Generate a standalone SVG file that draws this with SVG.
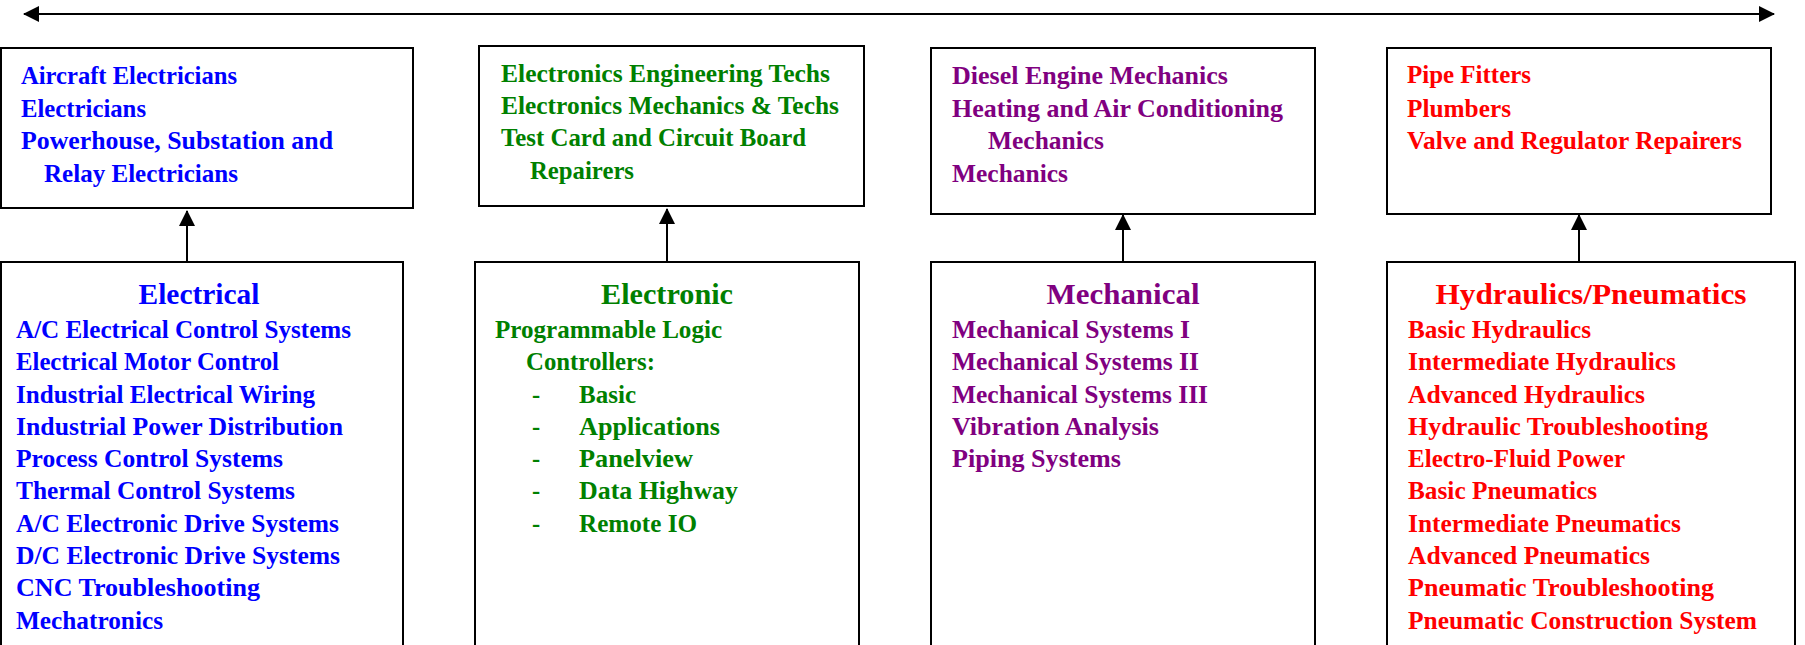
<svg xmlns="http://www.w3.org/2000/svg" width="1805" height="645" viewBox="0 0 1805 645">
  <style>
    .box { fill: #ffffff; stroke: #000000; stroke-width: 2; }
    .link { stroke: #000000; stroke-width: 2; fill: none; }
    text { font-family: "Liberation Serif", "Times New Roman", serif; font-weight: bold; font-size: 24.5px; }
    .title { font-size: 29.5px; text-anchor: middle; }
    .blue { fill: #0000ff; }
    .green { fill: #008000; }
    .purple { fill: #800080; }
    .red { fill: #ff0000; }
  </style>
  <defs>
    <marker id="head" markerUnits="userSpaceOnUse" markerWidth="16" markerHeight="16" viewBox="0 0 16 16" refX="15" refY="8" orient="auto-start-reverse">
      <path d="M0,0 L16,8 L0,16 Z" fill="#000000"/>
    </marker>
  </defs>
  <rect width="1805" height="645" fill="#ffffff"/>

  <!-- connectors -->
  <g id="connectors">
    <line class="link" x1="24" y1="14" x2="1774" y2="14" marker-start="url(#head)" marker-end="url(#head)"/>
    <line class="link" x1="187" y1="262" x2="187" y2="211" marker-end="url(#head)"/>
    <line class="link" x1="667" y1="262" x2="667" y2="209" marker-end="url(#head)"/>
    <line class="link" x1="1123" y1="262" x2="1123" y2="215" marker-end="url(#head)"/>
    <line class="link" x1="1579" y1="262" x2="1579" y2="215" marker-end="url(#head)"/>
  </g>

  <!-- occupations: electrical -->
  <g id="jobs-electrical">
    <rect class="box" x="1" y="48" width="412" height="160"/>
    <text class="blue" x="21" y="84" textLength="216" lengthAdjust="spacingAndGlyphs">Aircraft Electricians</text>
    <text class="blue" x="21" y="117" textLength="125" lengthAdjust="spacingAndGlyphs">Electricians</text>
    <text class="blue" x="21" y="149" textLength="312" lengthAdjust="spacingAndGlyphs">Powerhouse, Substation and</text>
    <text class="blue" x="44" y="182" textLength="194" lengthAdjust="spacingAndGlyphs">Relay Electricians</text>
  </g>

  <!-- occupations: electronic -->
  <g id="jobs-electronic">
    <rect class="box" x="479" y="46" width="385" height="160"/>
    <text class="green" x="501" y="82" textLength="329" lengthAdjust="spacingAndGlyphs">Electronics Engineering Techs</text>
    <text class="green" x="501" y="114" textLength="338" lengthAdjust="spacingAndGlyphs">Electronics Mechanics &amp; Techs</text>
    <text class="green" x="501" y="146" textLength="305" lengthAdjust="spacingAndGlyphs">Test Card and Circuit Board</text>
    <text class="green" x="530" y="179" textLength="104" lengthAdjust="spacingAndGlyphs">Repairers</text>
  </g>

  <!-- occupations: mechanical -->
  <g id="jobs-mechanical">
    <rect class="box" x="931" y="48" width="384" height="166"/>
    <text class="purple" x="952" y="84" textLength="276" lengthAdjust="spacingAndGlyphs">Diesel Engine Mechanics</text>
    <text class="purple" x="952" y="117" textLength="331" lengthAdjust="spacingAndGlyphs">Heating and Air Conditioning</text>
    <text class="purple" x="988" y="149" textLength="116" lengthAdjust="spacingAndGlyphs">Mechanics</text>
    <text class="purple" x="952" y="182" textLength="116" lengthAdjust="spacingAndGlyphs">Mechanics</text>
  </g>

  <!-- occupations: fluid power -->
  <g id="jobs-fluid">
    <rect class="box" x="1387" y="48" width="384" height="166"/>
    <text class="red" x="1407" y="83" textLength="124" lengthAdjust="spacingAndGlyphs">Pipe Fitters</text>
    <text class="red" x="1407" y="117" textLength="104" lengthAdjust="spacingAndGlyphs">Plumbers</text>
    <text class="red" x="1407" y="149" textLength="335" lengthAdjust="spacingAndGlyphs">Valve and Regulator Repairers</text>
  </g>

  <!-- courses: electrical -->
  <g id="courses-electrical">
    <rect class="box" x="1" y="262" width="402" height="420"/>
    <text class="blue title" x="199" y="304" textLength="121" lengthAdjust="spacingAndGlyphs">Electrical</text>
    <text class="blue" x="16" y="338" textLength="335" lengthAdjust="spacingAndGlyphs">A/C Electrical Control Systems</text>
    <text class="blue" x="16" y="370" textLength="263" lengthAdjust="spacingAndGlyphs">Electrical Motor Control</text>
    <text class="blue" x="16" y="403" textLength="299" lengthAdjust="spacingAndGlyphs">Industrial Electrical Wiring</text>
    <text class="blue" x="16" y="435" textLength="327" lengthAdjust="spacingAndGlyphs">Industrial Power Distribution</text>
    <text class="blue" x="16" y="467" textLength="267" lengthAdjust="spacingAndGlyphs">Process Control Systems</text>
    <text class="blue" x="16" y="499" textLength="279" lengthAdjust="spacingAndGlyphs">Thermal Control Systems</text>
    <text class="blue" x="16" y="532" textLength="323" lengthAdjust="spacingAndGlyphs">A/C Electronic Drive Systems</text>
    <text class="blue" x="16" y="564" textLength="324" lengthAdjust="spacingAndGlyphs">D/C Electronic Drive Systems</text>
    <text class="blue" x="16" y="596" textLength="244" lengthAdjust="spacingAndGlyphs">CNC Troubleshooting</text>
    <text class="blue" x="16" y="629" textLength="147" lengthAdjust="spacingAndGlyphs">Mechatronics</text>
  </g>

  <!-- courses: electronic -->
  <g id="courses-electronic">
    <rect class="box" x="475" y="262" width="384" height="420"/>
    <text class="green title" x="667" y="304" textLength="132" lengthAdjust="spacingAndGlyphs">Electronic</text>
    <text class="green" x="495" y="338" textLength="227" lengthAdjust="spacingAndGlyphs">Programmable Logic</text>
    <text class="green" x="526" y="370" textLength="129" lengthAdjust="spacingAndGlyphs">Controllers:</text>
    <text class="green" x="532" y="403">-</text>
    <text class="green" x="579" y="403" textLength="57" lengthAdjust="spacingAndGlyphs">Basic</text>
    <text class="green" x="532" y="435">-</text>
    <text class="green" x="579" y="435" textLength="141" lengthAdjust="spacingAndGlyphs">Applications</text>
    <text class="green" x="532" y="467">-</text>
    <text class="green" x="579" y="467" textLength="114" lengthAdjust="spacingAndGlyphs">Panelview</text>
    <text class="green" x="532" y="499">-</text>
    <text class="green" x="579" y="499" textLength="159" lengthAdjust="spacingAndGlyphs">Data Highway</text>
    <text class="green" x="532" y="532">-</text>
    <text class="green" x="579" y="532" textLength="118" lengthAdjust="spacingAndGlyphs">Remote IO</text>
  </g>

  <!-- courses: mechanical -->
  <g id="courses-mechanical">
    <rect class="box" x="931" y="262" width="384" height="420"/>
    <text class="purple title" x="1123" y="304" textLength="153" lengthAdjust="spacingAndGlyphs">Mechanical</text>
    <text class="purple" x="952" y="338" textLength="238" lengthAdjust="spacingAndGlyphs">Mechanical Systems I</text>
    <text class="purple" x="952" y="370" textLength="247" lengthAdjust="spacingAndGlyphs">Mechanical Systems II</text>
    <text class="purple" x="952" y="403" textLength="256" lengthAdjust="spacingAndGlyphs">Mechanical Systems III</text>
    <text class="purple" x="952" y="435" textLength="207" lengthAdjust="spacingAndGlyphs">Vibration Analysis</text>
    <text class="purple" x="952" y="467" textLength="169" lengthAdjust="spacingAndGlyphs">Piping Systems</text>
  </g>

  <!-- courses: hydraulics / pneumatics -->
  <g id="courses-fluid">
    <rect class="box" x="1387" y="262" width="408" height="420"/>
    <text class="red title" x="1591" y="304" textLength="311" lengthAdjust="spacingAndGlyphs">Hydraulics/Pneumatics</text>
    <text class="red" x="1408" y="338" textLength="183" lengthAdjust="spacingAndGlyphs">Basic Hydraulics</text>
    <text class="red" x="1408" y="370" textLength="268" lengthAdjust="spacingAndGlyphs">Intermediate Hydraulics</text>
    <text class="red" x="1408" y="403" textLength="237" lengthAdjust="spacingAndGlyphs">Advanced Hydraulics</text>
    <text class="red" x="1408" y="435" textLength="300" lengthAdjust="spacingAndGlyphs">Hydraulic Troubleshooting</text>
    <text class="red" x="1408" y="467" textLength="217" lengthAdjust="spacingAndGlyphs">Electro-Fluid Power</text>
    <text class="red" x="1408" y="499" textLength="189" lengthAdjust="spacingAndGlyphs">Basic Pneumatics</text>
    <text class="red" x="1408" y="532" textLength="273" lengthAdjust="spacingAndGlyphs">Intermediate Pneumatics</text>
    <text class="red" x="1408" y="564" textLength="242" lengthAdjust="spacingAndGlyphs">Advanced Pneumatics</text>
    <text class="red" x="1408" y="596" textLength="306" lengthAdjust="spacingAndGlyphs">Pneumatic Troubleshooting</text>
    <text class="red" x="1408" y="629" textLength="349" lengthAdjust="spacingAndGlyphs">Pneumatic Construction System</text>
  </g>
</svg>
